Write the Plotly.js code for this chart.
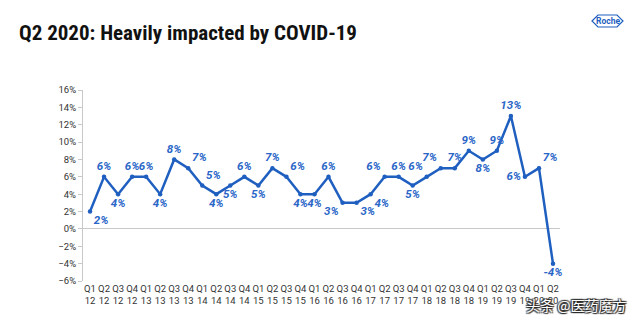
<!DOCTYPE html>
<html>
<head>
<meta charset="utf-8">
<script src="https://cdn.plot.ly/plotly-3.0.1.min.js"></script>
<style>html,body{margin:0;padding:0;background:#fff;}#chart{width:640px;height:324px;}</style>
</head>
<body>
<div id="chart"></div>
<script>
const quarters = ["Q1","Q2","Q3","Q4","Q1","Q2","Q3","Q4","Q1","Q2","Q3","Q4","Q1","Q2","Q3","Q4","Q1","Q2","Q3","Q4","Q1","Q2","Q3","Q4","Q1","Q2","Q3","Q4","Q1","Q2","Q3","Q4","Q1","Q2"];
const years = ["12","12","12","12","13","13","13","13","14","14","14","14","15","15","15","15","16","16","16","16","17","17","17","17","18","18","18","18","19","19","19","19","20","20"];
const growth = [2,6,4,6,6,4,8,7,5,4,5,6,5,7,6,4,4,6,3,3,4,6,6,5,6,7,7,9,8,9,13,6,7,-4];
const labels = ["2%","6%","4%","6%","6%","4%","8%","7%","5%","4%","5%","6%","5%","7%","6%","4%","4%","6%","3%","3%","4%","6%","6%","5%","6%","7%","7%","9%","8%","9%","13%","6%","7%","-4%"];
const labelPos = ["bottom right","top center","bottom center","top center","top center","bottom center","top center","top right","top right","bottom center","bottom center","top center","bottom center","top center","top right","bottom center","bottom center","top center","bottom left","bottom right","bottom right","top left","top center","bottom center","top left","top left","top center","top center","bottom center","top center","top center","middle left","top right","bottom center"];

const idx = growth.map((_, i) => i);
const tickText = quarters.map((q, i) => q + "<br>" + years[i]);
const blue = "#1f5fc0";

const trace = {
  x: idx, y: growth, type: "scatter", mode: "lines+markers+text",
  line: {color: blue, width: 2.5},
  marker: {color: blue, size: 4.5},
  text: labels, textposition: labelPos,
  textfont: {family: "Roboto, Arial, sans-serif", size: 11.5, color: "#2a66c8", weight: "bold", style: "italic"},
  cliponaxis: false, hoverinfo: "none"
};

function px(xp) { return (xp - 83) / 477; }
function py(yp) { return (281 - yp) / 191; }

const layout = {
  width: 640, height: 324,
  margin: {l: 83, r: 80, t: 90, b: 43},
  paper_bgcolor: "#fff", plot_bgcolor: "#fff",
  showlegend: false,
  xaxis: {
    range: [-0.5, 33.5], tickvals: idx, ticktext: tickText,
    showgrid: false, zeroline: false, showline: false, ticks: "",
    tickfont: {family: "Roboto, Arial, sans-serif", size: 9.5, color: "#333"},
    tickangle: 0, fixedrange: true
  },
  yaxis: {
    range: [-6, 16], dtick: 2, ticksuffix: "%",
    showgrid: false, zeroline: true, zerolinecolor: "#c8c8c8", zerolinewidth: 1,
    showline: true, linecolor: "#c8c8c8", linewidth: 1,
    ticks: "outside", ticklen: 4, tickcolor: "#c8c8c8",
    tickfont: {family: "Roboto, Arial, sans-serif", size: 9.5, color: "#333"},
    fixedrange: true
  },
  annotations: [
    {xref: "paper", yref: "paper", x: px(17), y: py(33), xanchor: "left", yanchor: "middle",
     text: "<b>Q2 2020: Heavily impacted by COVID-19</b>", showarrow: false,
     font: {family: "'Liberation Sans Narrow', 'Roboto Condensed', Roboto, Arial, sans-serif", size: 21, color: "#111"}},
    {xref: "paper", yref: "paper", x: px(607.5), y: py(21), xanchor: "center", yanchor: "middle",
     text: "<b>Roche</b>", showarrow: false,
     font: {family: "'Liberation Sans Narrow', Roboto, Arial, sans-serif", size: 8.5, color: "#1f5fc0"}},
    {xref: "paper", yref: "paper", x: px(628), y: py(305), xanchor: "right", yanchor: "middle",
     text: "头条 @医药魔方", showarrow: false,
     font: {family: "'Noto Sans CJK SC', sans-serif", size: 14, color: "#ffffff", shadow: "1px 1px 1px #222, -1px -1px 1px #333, 1px -1px 1px #333, -1px 1px 1px #333"}}
  ]
};

const hex = [[592,21],[598,15],[617,15],[623,21],[617,27],[598,27]];
layout.shapes = [{
  type: "path", xref: "paper", yref: "paper",
  path: "M " + hex.map(p => px(p[0]) + "," + py(p[1])).join(" L ") + " Z",
  line: {color: "#1f5fc0", width: 1.2}, fillcolor: "rgba(0,0,0,0)"
}];

Plotly.newPlot("chart", [trace], layout, {displayModeBar: false, staticPlot: true});
</script>
</body>
</html>
